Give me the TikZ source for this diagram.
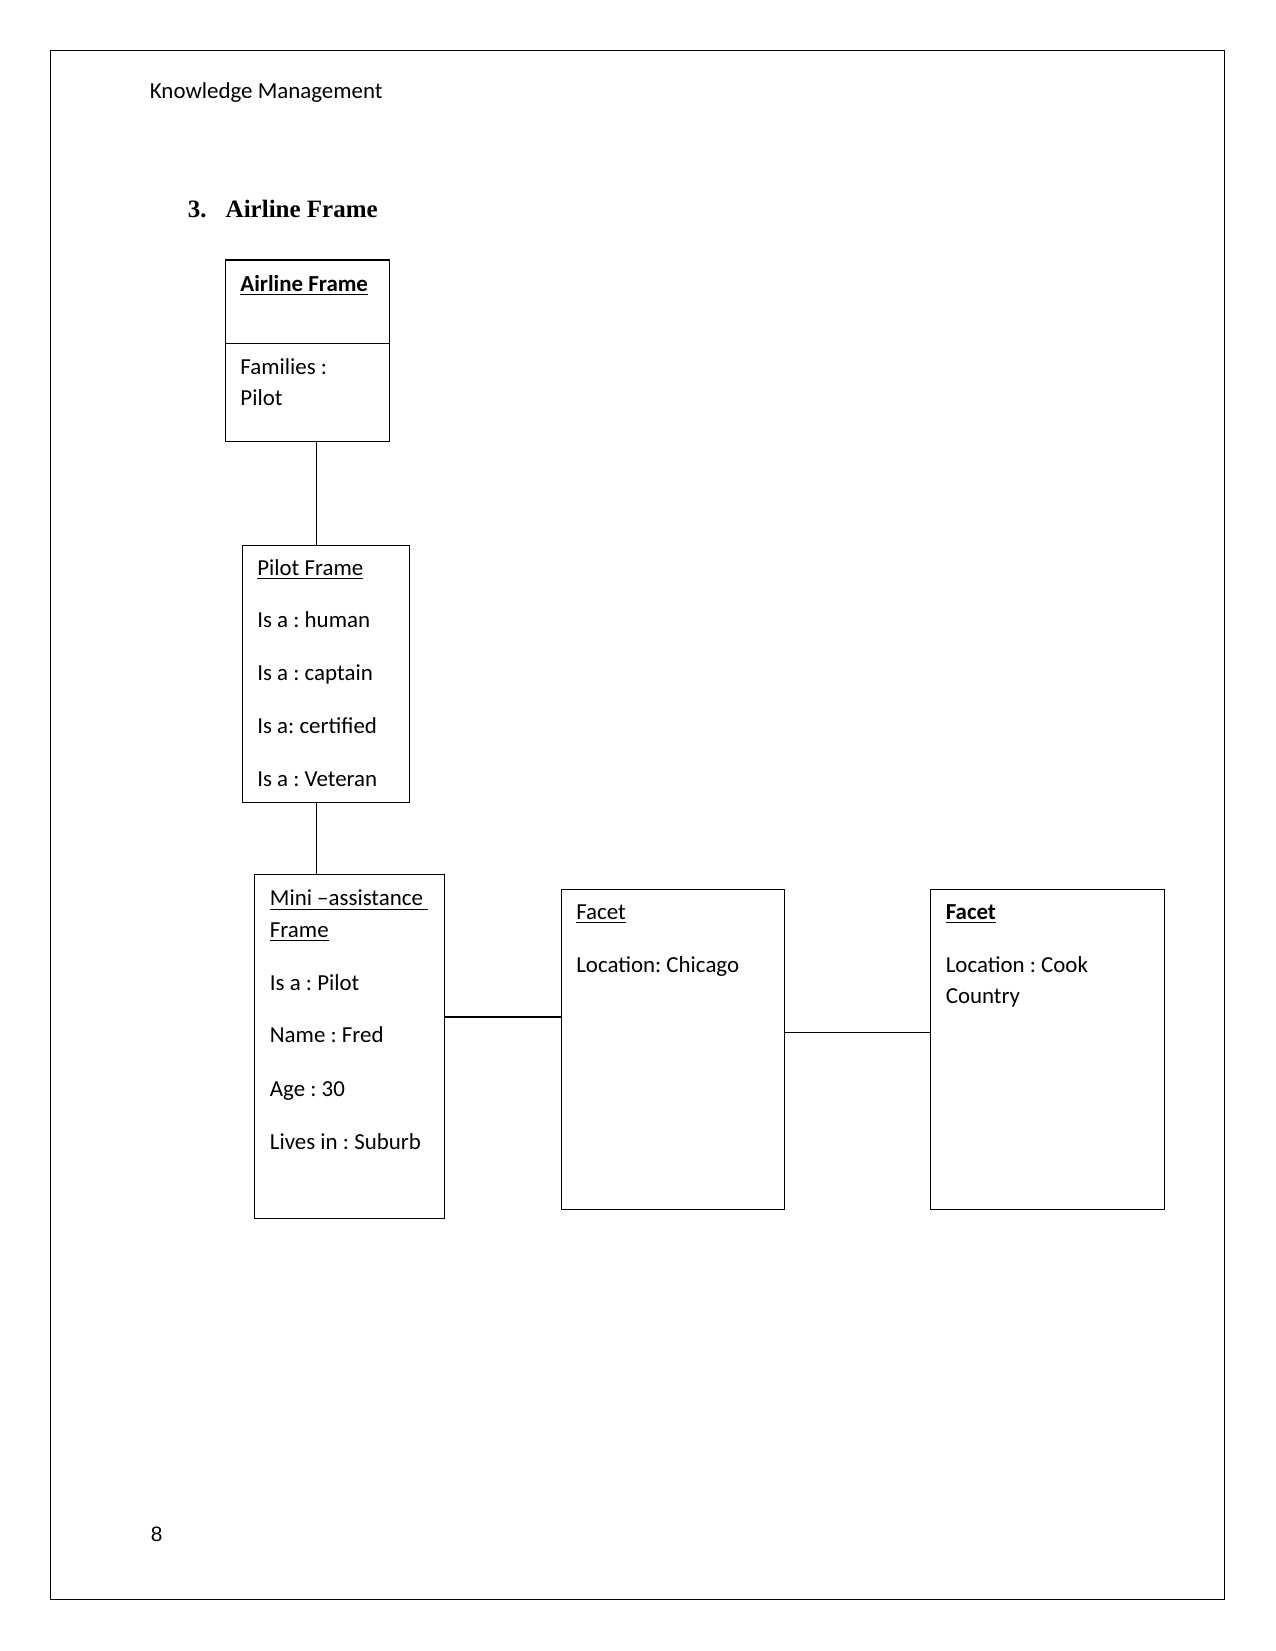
\documentclass[tikz,border=0pt]{standalone}
\usepackage{fontspec}
\setmainfont{Carlito}
\newfontfamily\headfont{Liberation Serif}
\newfontfamily\numfont{Liberation Sans}
\usetikzlibrary{fit}
\frenchspacing
\begin{document}
\begin{tikzpicture}[x=0.48pt,y=-0.48pt,
  txt/.style={anchor=base west,inner sep=0pt,font=\fontsize{11}{13}\selectfont},
  frame/.style={draw,line width=0.5pt,inner sep=0pt},
  link/.style={draw,line width=0.5pt}]
\useasboundingbox (0,0) rectangle (1275,1651);
% page border
\coordinate (pgnw) at (50.5,50.5);
\coordinate (pgse) at (1224.4,1599.2);
\node[frame,fit=(pgnw)(pgse)] (page) {};
% header
\node[txt] (hdr) at (149.5,98.4) {Knowledge Management};
\node[txt,font=\headfont\bfseries\fontsize{12}{14}\selectfont] (hnum) at (187.4,217.3) {3.};
\node[txt,font=\headfont\bfseries\fontsize{12}{14}\selectfont] (htitle) at (225.3,217.3) {Airline Frame};
% Airline frame box
\coordinate (afnw) at (225.3,260);
\coordinate (afse) at (389.5,441.1);
\node[frame,fit=(afnw)(afse)] (af) {};
\coordinate (afdiv) at (225.3,343.2);
\draw[line width=0.5pt] (af.west |- afdiv) -- (af.east |- afdiv);
\node[txt] (aft) at (240,291) {\textbf{\underline{Airline Frame}}};
\node[txt] (af1) at (240,374.2) {Families :};
\node[txt] (af2) at (240,405.8) {Pilot};
% Pilot frame box
\coordinate (pfnw) at (242.1,545.4);
\coordinate (pfse) at (409.5,802.2);
\node[frame,fit=(pfnw)(pfse)] (pf) {};
\node[txt] (pft) at (256.9,575.3) {\underline{Pilot Frame}};
\node[txt] (pf1) at (256.9,627.9) {Is a : human};
\node[txt] (pf2) at (256.9,680.5) {Is a : captain};
\node[txt] (pf3) at (256.9,733.2) {Is a: certified};
\node[txt] (pf4) at (256.9,786.9) {Is a : Veteran};
% Mini-assistance frame box
\coordinate (mfnw) at (254.8,874.9);
\coordinate (mfse) at (444.3,1218.1);
\node[frame,fit=(mfnw)(mfse)] (mf) {};
\node[txt] (mft1) at (269.5,905.9) {\underline{Mini –assistance~}};
\node[txt] (mft2) at (269.5,937.5) {\underline{Frame}};
\node[txt] (mf1) at (269.5,990.1) {Is a : Pilot};
\node[txt] (mf2) at (269.5,1042.7) {Name : Fred};
\node[txt] (mf3) at (269.5,1096.4) {Age : 30};
\node[txt] (mf4) at (269.5,1149.1) {Lives in : Suburb};
% Facet 1
\coordinate (f1nw) at (561.2,889.6);
\coordinate (f1se) at (784.3,1209.7);
\node[frame,fit=(f1nw)(f1se)] (f1) {};
\node[txt] (f1t) at (575.9,919.5) {\underline{Facet}};
\node[txt] (f1a) at (575.9,972.2) {Location: Chicago};
% Facet 2
\coordinate (f2nw) at (930.7,889.6);
\coordinate (f2se) at (1164.4,1209.7);
\node[frame,fit=(f2nw)(f2se)] (f2) {};
\node[txt] (f2t) at (945.4,919.5) {\textbf{\underline{Facet}}};
\node[txt] (f2a) at (945.4,972.2) {Location : Cook};
\node[txt] (f2b) at (945.4,1003.8) {Country};
% page number
\node[txt,font=\numfont\fontsize{10}{12}\selectfont] (pn) at (150.5,1541.2) {8};
% connectors
\coordinate (c1) at (316.9,0);
\coordinate (c3) at (0,1017);
\coordinate (c4) at (0,1032.8);
\draw[link] (af.south -| c1) -- (pf.north -| c1);
\draw[link] (pf.south -| c1) -- (mf.north -| c1);
\draw[link] (mf.east |- c3) -- (f1.west |- c3);
\draw[link] (f1.east |- c4) -- (f2.west |- c4);
\end{tikzpicture}
\end{document}
